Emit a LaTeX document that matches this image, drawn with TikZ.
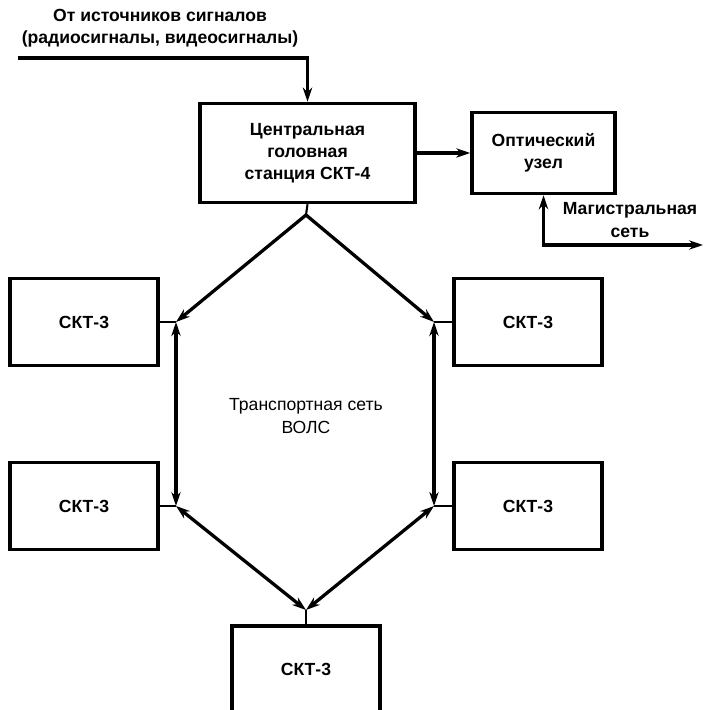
\documentclass[tikz,border=0pt]{standalone}
\usepackage{fontspec}
\setmainfont{Liberation Sans}
\usetikzlibrary{positioning, arrows.meta, calc}

\begin{document}
\begin{tikzpicture}[x=0.03cm,y=-0.03cm,
    blk/.style={draw, line width=3pt, align=center, inner sep=0pt, font=\fontsize{15}{19}\selectfont\bfseries},
    sktbox/.style={blk, minimum width=4.44cm, minimum height=2.61cm},
    lbl/.style={align=center, inner sep=0pt, font=\fontsize{15}{19}\selectfont\bfseries},
    lnk/.style={line width=2.8pt},
    stub/.style={line width=1.8pt},
    arr/.style={-{Stealth[length=12pt,width=8pt]}},
    arrs/.style={{Stealth[length=12pt,width=8pt]}-{Stealth[length=12pt,width=8pt]}}]
            \useasboundingbox (0,0) rectangle (703,710);
            \node[lbl] (src) at (160,28) {От источников сигналов\\(радиосигналы, видеосигналы)};
            \node[blk, minimum width=6.45cm, minimum height=2.97cm] (central) at (307.5,153) {Центральная\\головная\\станция СКТ-4};
            \node[blk, minimum width=4.29cm, minimum height=2.43cm] (optical) at (543.5,153) {Оптический\\узел};
            \node[lbl] (trunk) at (630,220) {Магистральная\\сеть};
            \node[sktbox] (sktLA) at (84,322) {СКТ-3};
            \node[sktbox] (sktRA) at (528,322) {СКТ-3};
            \node[sktbox] (sktLB) at (84,506) {СКТ-3};
            \node[sktbox] (sktRB) at (528,506) {СКТ-3};
            \node[sktbox] (sktC) at (306,669.5) {СКТ-3};
            \node[lbl, font=\fontsize{15}{19}\selectfont\mdseries] (fols) at (306,416) {Транспортная сеть\\ВОЛС};

            \coordinate (srcW) at (18,58);
            \coordinate (trunkE) at (703,245);
            \coordinate (hub) at (306,215);
            \coordinate (jLA) at (176,322);
            \coordinate (jRA) at (434,322);
            \coordinate (jLB) at (176,506);
            \coordinate (jRB) at (434,506);
            \coordinate (jC) at (306,610);

            \draw[lnk, arr] (srcW) -| (central.north);
            \draw[lnk, arr] (central.east) -- (optical.west);
            \draw[lnk, arrs] (optical.south) |- (trunkE);
            \draw[stub] (central.south) -- (hub);
            \draw[lnk, arr] (hub) -- (jLA);
            \draw[lnk, arr] (hub) -- (jRA);
            \draw[lnk, arrs] (jLA) -- (jLB);
            \draw[lnk, arrs] (jRA) -- (jRB);
            \draw[lnk, arrs] (jLB) -- (jC);
            \draw[lnk, arrs] (jRB) -- (jC);
            \draw[stub] (sktLA.east) -- (jLA);
            \draw[stub] (sktRA.west) -- (jRA);
            \draw[stub] (sktLB.east) -- (jLB);
            \draw[stub] (sktRB.west) -- (jRB);
            \draw[stub] (sktC.north) -- (jC);
\end{tikzpicture}
\end{document}
